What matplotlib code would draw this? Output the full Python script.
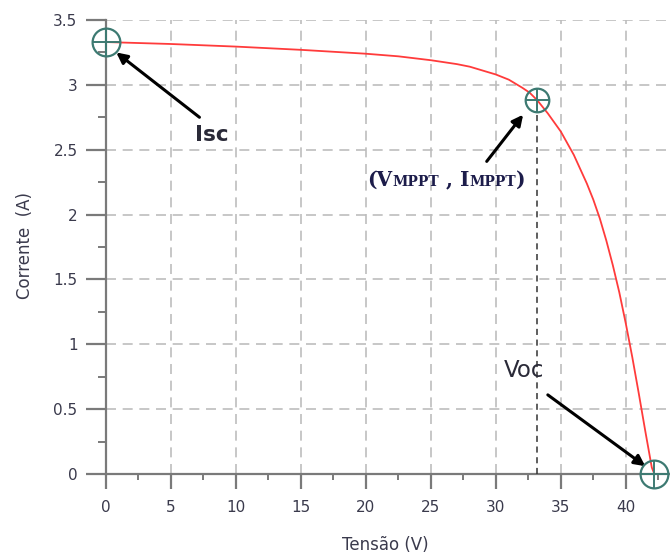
import matplotlib
matplotlib.use('Agg')
import numpy as np
from matplotlib import pyplot as plt
from matplotlib.offsetbox import TextArea, HPacker, AnnotationBbox

# curve
voltage = [0, 5, 10, 15, 20, 22.5, 25, 27, 28, 29, 30, 31, 32, 32.6, 33.2, 34, 35,
           36, 37, 37.5, 38, 38.5, 39, 39.5, 40, 40.5, 41, 41.5, 42, 42.2]
current = [3.33, 3.315, 3.295, 3.27, 3.24, 3.22, 3.19, 3.16, 3.14, 3.11, 3.08, 3.04,
           2.98, 2.94, 2.88, 2.78, 2.64, 2.46, 2.24, 2.115, 1.97, 1.80, 1.61, 1.40,
           1.16, 0.90, 0.62, 0.33, 0.05, 0.0]

# key points
isc = (0, 3.33)
mppt = (33.2, 2.88)
voc = (42.2, 0.0)

xticks = [0, 5, 10, 15, 20, 25, 30, 35, 40]
yticks = [0, 0.5, 1, 1.5, 2, 2.5, 3, 3.5]
ytick_labels = ['0', '0.5', '1', '1.5', '2', '2.5', '3', '3.5']

plt.rcParams['font.family'] = ['DejaVu Sans']

fig = plt.figure(figsize=(6.7, 5.54), dpi=100)
ax = fig.add_axes([0.158, 0.1444, 0.842, 0.8195])

grey = '#7a7a7a'
label_col = '#3a3a4c'
teal = '#3d7a72'

ax.set_xlim(0, 43.4)
ax.set_ylim(0, 3.5)

ax.set_xticks(xticks)
ax.set_xticks([x + 2.5 for x in xticks], minor=True)
ax.set_yticks(yticks)
ax.set_yticklabels(ytick_labels)
ax.set_yticks([y + 0.25 for y in yticks[:-1]], minor=True)

ax.tick_params(axis='y', which='major', length=14.4, width=1.6, color=grey,
               labelsize=11, labelcolor=label_col, pad=6)
ax.tick_params(axis='y', which='minor', length=5.8, width=1.4, color=grey)
ax.tick_params(axis='x', which='major', length=10.8, width=1.6, color=grey,
               labelsize=11, labelcolor=label_col, pad=8)
ax.tick_params(axis='x', which='minor', length=4.3, width=1.4, color=grey)

for s in ['top', 'right']:
    ax.spines[s].set_visible(False)
for s in ['left', 'bottom']:
    ax.spines[s].set_color(grey)
    ax.spines[s].set_linewidth(1.6)

ax.grid(True, which='major', color='#bdbdbd', linestyle=(0, (6, 4)), linewidth=1.2)

# curve
ax.plot(voltage, current, color='#ff3b3b', linewidth=1.3, zorder=3)

# vertical dashed line at the MPP
ax.plot([mppt[0], mppt[0]], [0, mppt[1]], color='#333333', linestyle=(0, (4, 3)),
        linewidth=1.1, zorder=3)

# circle-plus markers
for px, py in [isc, mppt, voc]:
    ms = 20 if (px, py) != mppt else 17
    ax.plot(px, py, marker='o', markersize=ms, markerfacecolor='none',
            markeredgecolor=teal, markeredgewidth=1.6, clip_on=False, zorder=5)
    ax.plot(px, py, marker='+', markersize=ms, markeredgecolor=teal,
            markeredgewidth=1.4, clip_on=False, zorder=5)

arrow = dict(arrowstyle='-|>', color='black', lw=2.2, mutation_scale=16,
             shrinkA=0, shrinkB=0)

# Isc
ax.annotate('', xy=(0.8, 3.25), xytext=(7.2, 2.75), arrowprops=arrow)
ax.text(8.15, 2.61, 'Isc', fontsize=15.5, fontweight='bold', color='#2a2a38',
        ha='center', va='center')

# Voc
ax.annotate('', xy=(41.5, 0.06), xytext=(34.0, 0.61), arrowprops=arrow)
ax.text(32.2, 0.80, 'Voc', fontsize=16.5, color='#2a2a38', ha='center', va='center')

# MPPT
ax.annotate('', xy=(32.1, 2.77), xytext=(29.3, 2.41), arrowprops=arrow)
serif = dict(family='DejaVu Serif', weight='bold', color='#1c1c4a')
parts = [('(V', 14.5), ('MPPT', 10), (' , I', 14.5), ('MPPT', 10), (')', 14.5)]
boxes = [TextArea(t, textprops=dict(fontsize=s, **serif)) for t, s in parts]
pack = HPacker(children=boxes, align='baseline', pad=0, sep=0)
ab = AnnotationBbox(pack, (26.2, 2.27), frameon=False, box_alignment=(0.5, 0.5))
ax.add_artist(ab)

fig.text(385 / 670, 1 - 545 / 554, 'Tensão (V)', fontsize=12, color=label_col,
         ha='center', va='center')
fig.text(25 / 670, 1 - 245 / 554, 'Corrente  (A)', fontsize=12, color=label_col,
         ha='center', va='center', rotation=90)

fig.savefig('out.png', dpi=100)
